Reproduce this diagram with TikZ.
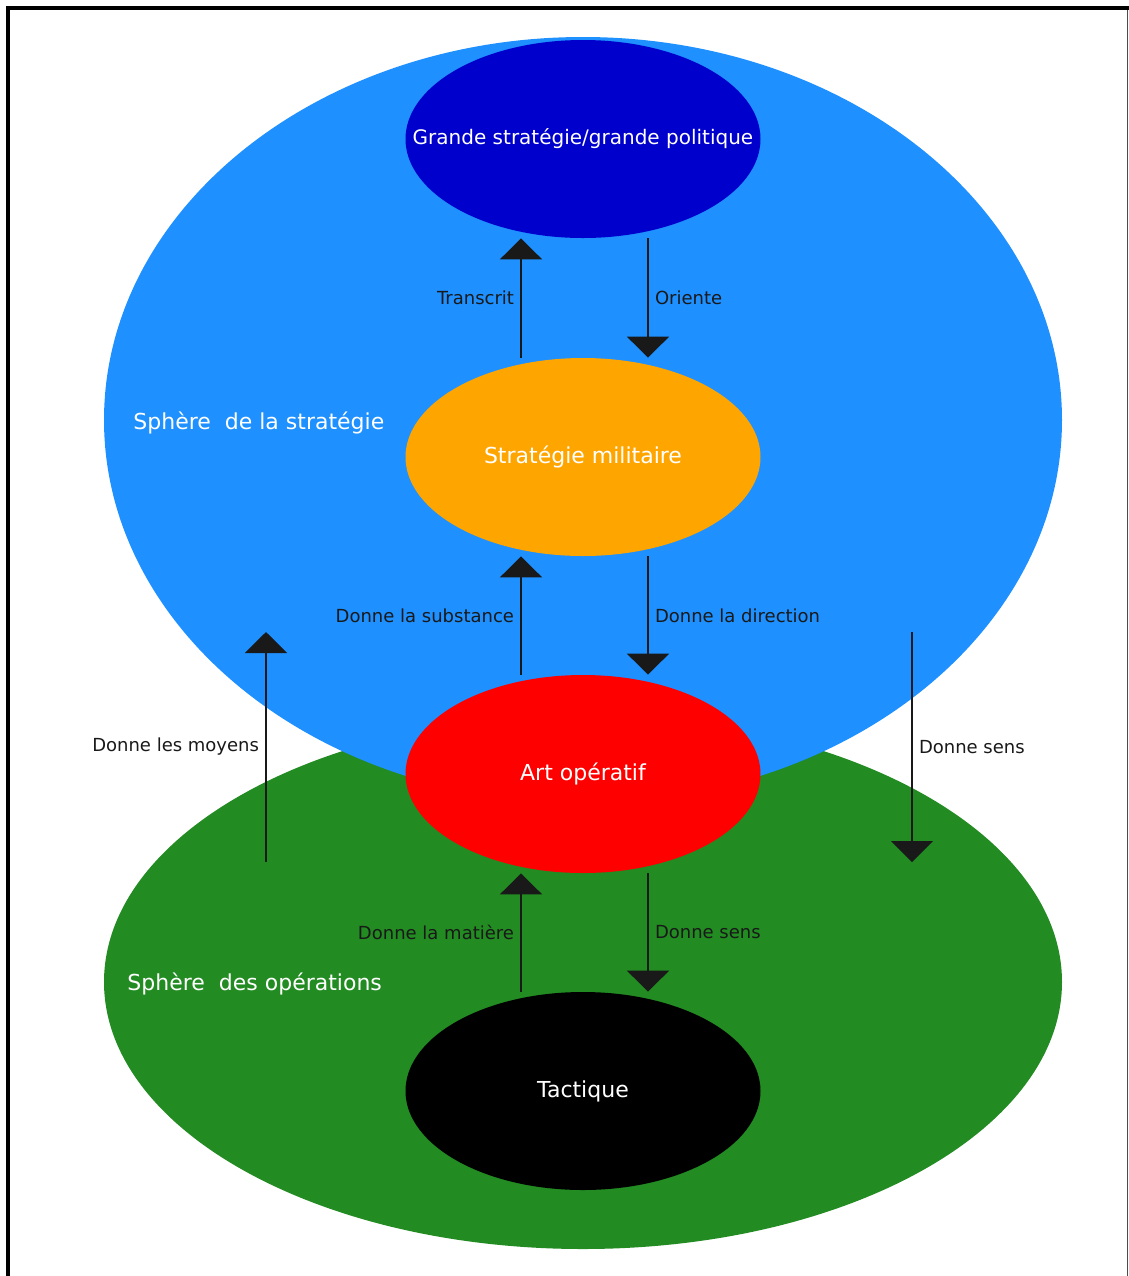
\documentclass[tikz,border=0pt]{standalone}
\usepackage{fontspec}
\setmainfont{DejaVu Sans}
\usetikzlibrary{calc,arrows.meta,shapes,positioning}
\definecolor{spherestrat}{HTML}{1E90FF}
\definecolor{sphereops}{HTML}{228B22}
\definecolor{grandepol}{HTML}{0000CD}
\definecolor{stratmil}{HTML}{FFA500}
\definecolor{artop}{HTML}{FF0000}

\begin{document}
\begin{tikzpicture}[x=0.5pt, y=-0.5pt,
   sphere/.style={ellipse, minimum width=479pt, inner sep=0pt},
   level/.style={ellipse, minimum width=177.5pt, minimum height=99pt, inner sep=0pt, text=white, font=\fontsize{11pt}{13pt}\selectfont},
   flow/.style={-{Triangle[width=21pt,length=10.5pt]}, line width=1pt, color=black!90},
   lab/.style={font=\fontsize{9pt}{11pt}\selectfont, text=black!90, inner sep=3pt},
   spherelab/.style={font=\fontsize{11pt}{13pt}\selectfont, text=white, anchor=west, inner sep=0pt}]
   \useasboundingbox (0,0) rectangle (1129,1276);

   \node[sphere, fill=sphereops, minimum height=267pt] (ops) at (583,982) {};
   \node[sphere, fill=spherestrat, minimum height=383pt] (strat) at (583,420) {};
   \node[spherelab] (stratlab) at (133,423) {Sphère\ \ de la stratégie};
   \node[spherelab] (opslab) at (127,984) {Sphère\ \ des opérations};

   \node[level, fill=grandepol, font=\fontsize{10pt}{12pt}\selectfont] (gs) at (583,139) {\makebox[0pt]{Grande stratégie/grande politique}};
   \node[level, fill=stratmil] (mil) at (583,457) {Stratégie militaire};
   \node[level, fill=artop] (art) at (583,774) {Art opératif};
   \node[level, fill=black] (tac) at (583,1091) {Tactique};

   \coordinate (up) at (521,0);
   \coordinate (down) at (648,0);
   \coordinate (moyensA) at (266,862);
   \coordinate (moyensB) at (266,632);
   \coordinate (sensA) at (912,632);
   \coordinate (sensB) at (912,862);

   \path[flow]
    (mil.north -| up) edge node [lab, left] {Transcrit} (gs.south -| up)
    (gs.south -| down) edge node [lab, right] {Oriente} (mil.north -| down)
    (art.north -| up) edge node [lab, left] {Donne la substance} (mil.south -| up)
    (mil.south -| down) edge node [lab, right] {Donne la direction} (art.north -| down)
    (tac.north -| up) edge node [lab, left] {Donne la matière} (art.south -| up)
    (art.south -| down) edge node [lab, right] {Donne sens} (tac.north -| down)
    (moyensA) edge node [lab, left] {Donne les moyens} (moyensB)
    (sensA) edge node [lab, right] {Donne sens} (sensB);

   \draw[line width=2pt] (8,1276) -- (8,8) -- (1129,8);
   \draw[gray!60!black, line width=0.75pt] (1127.5,10) -- (1127.5,1276);
\end{tikzpicture}
\end{document}
